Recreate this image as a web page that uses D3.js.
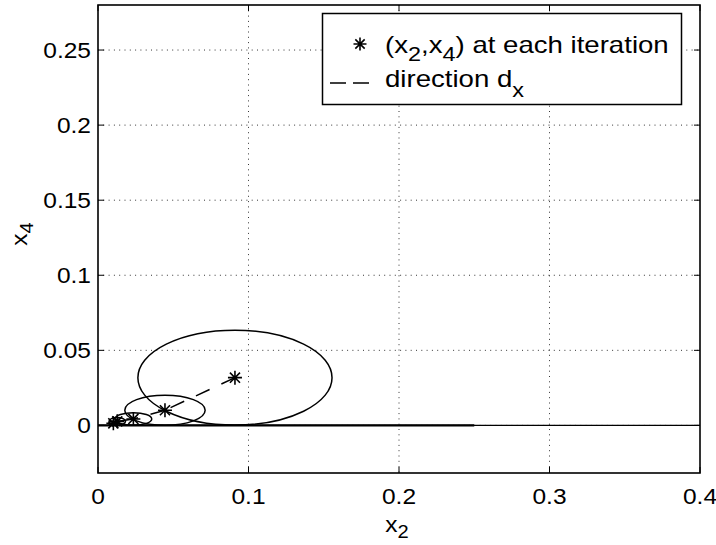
<!DOCTYPE html>
<html>
<head>
<meta charset="utf-8">
<script src="https://cdn.jsdelivr.net/npm/d3@7/dist/d3.min.js"></script>
<style>
  html, body { margin: 0; padding: 0; background: #fff; }
  svg { display: block; }
  text { font-family: "Liberation Sans", Arial, Helvetica, sans-serif; fill: #000; }
</style>
</head>
<body>
<div id="chart"></div>
<script>
// axis ticks
const xTicks = [0, 0.1, 0.2, 0.3, 0.4];
const yTicks = [0, 0.05, 0.1, 0.15, 0.2, 0.25];
const xTickLabels = ["0", "0.1", "0.2", "0.3", "0.4"];
const yTickLabels = ["0", "0.05", "0.1", "0.15", "0.2", "0.25"];

// (x2, x4) at each iteration
const iterX2 = [0.091, 0.0445, 0.0235, 0.0128, 0.0102];
const iterX4 = [0.0318, 0.0101, 0.0043, 0.0027, 0.0014];

// ellipse half widths around each iterate
const ellRadX = [0.0645, 0.0267, 0.0122, 0.0055, 0.003];
const ellRadY = [0.0316, 0.0100, 0.0042, 0.0026, 0.0013];

// the x4 = 0 line, thick part and full part
const zeroLineThick = [0, 0.25];
const zeroLineThin = [0, 0.4];

const W = 716, H = 545;
const pLeft = 98, pRight = 700, pTop = 5, pBottom = 473;

const svg = d3.select("#chart").append("svg")
    .attr("width", W)
    .attr("height", H);

const x = d3.scaleLinear().domain([0, 0.4]).range([pLeft, pRight]);
const y = d3.scaleLinear().domain([-0.0317, 0.28]).range([pBottom, pTop]);

const FS = 21.5;
const STRETCH = 1.14;   // the picture's text is a bit wider than the font

function addText(parent, px, py, fs, st) {
    return parent.append("text")
        .attr("transform", `translate(${px},${py}) scale(${st || STRETCH},1)`)
        .attr("font-size", fs || FS);
}

// grid
const grid = svg.append("g")
    .attr("stroke", "#000")
    .attr("stroke-width", 0.8)
    .attr("stroke-dasharray", "1,4.3");
grid.selectAll("line.gx")
    .data(xTicks.slice(1, -1))
    .enter().append("line")
    .attr("x1", d => x(d)).attr("x2", d => x(d))
    .attr("y1", pTop).attr("y2", pBottom);
grid.selectAll("line.gy")
    .data(yTicks)
    .enter().append("line")
    .attr("y1", d => y(d)).attr("y2", d => y(d))
    .attr("x1", pLeft).attr("x2", pRight);

// zero lines
svg.append("line")
    .attr("x1", x(zeroLineThin[0])).attr("x2", x(zeroLineThin[1]))
    .attr("y1", y(0)).attr("y2", y(0))
    .attr("stroke", "#000").attr("stroke-width", 1.3);
svg.append("line")
    .attr("x1", x(zeroLineThick[0])).attr("x2", x(zeroLineThick[1]))
    .attr("y1", y(0)).attr("y2", y(0))
    .attr("stroke", "#000").attr("stroke-width", 2.2);

// ellipses
svg.append("g")
    .selectAll("ellipse")
    .data(iterX2)
    .enter().append("ellipse")
    .attr("cx", d => x(d))
    .attr("cy", (d, i) => y(iterX4[i]))
    .attr("rx", (d, i) => x(ellRadX[i]) - x(0))
    .attr("ry", (d, i) => y(0) - y(ellRadY[i]))
    .attr("fill", "none")
    .attr("stroke", "#000")
    .attr("stroke-width", 1.5);

// direction lines, dashed, from one iterate to the next
const dirPairs = d3.pairs(d3.range(iterX2.length));
svg.append("g")
    .selectAll("line")
    .data(dirPairs)
    .enter().append("line")
    .attr("x1", d => x(iterX2[d[0]]))
    .attr("y1", d => y(iterX4[d[0]]))
    .attr("x2", d => x(iterX2[d[1]]))
    .attr("y2", d => y(iterX4[d[1]]))
    .attr("stroke", "#000")
    .attr("stroke-width", 1.5)
    .attr("stroke-dasharray", "15,13");

// star marker like matlab '*'
function star(g, cx, cy, r) {
    const d = r * 0.72;
    const p = `M${cx - r},${cy}L${cx + r},${cy}M${cx},${cy - r}L${cx},${cy + r}` +
        `M${cx - d},${cy - d}L${cx + d},${cy + d}M${cx - d},${cy + d}L${cx + d},${cy - d}`;
    g.append("path").attr("d", p)
        .attr("stroke", "#000").attr("stroke-width", 1.6).attr("fill", "none");
}
const stars = svg.append("g");
iterX2.forEach((v, i) => star(stars, x(v), y(iterX4[i]), 7));

// axes box and ticks
const axes = svg.append("g").attr("stroke", "#000").attr("stroke-width", 1.6);
axes.append("rect")
    .attr("x", pLeft).attr("y", pTop)
    .attr("width", pRight - pLeft).attr("height", pBottom - pTop)
    .attr("fill", "none");
const tl = 6;
xTicks.forEach(t => {
    axes.append("line").attr("x1", x(t)).attr("x2", x(t)).attr("y1", pBottom).attr("y2", pBottom - tl).attr("stroke-width", 1);
    axes.append("line").attr("x1", x(t)).attr("x2", x(t)).attr("y1", pTop).attr("y2", pTop + tl).attr("stroke-width", 1);
});
yTicks.forEach(t => {
    axes.append("line").attr("y1", y(t)).attr("y2", y(t)).attr("x1", pLeft).attr("x2", pLeft + tl).attr("stroke-width", 1);
    axes.append("line").attr("y1", y(t)).attr("y2", y(t)).attr("x1", pRight).attr("x2", pRight - tl).attr("stroke-width", 1);
});

// tick labels
xTicks.forEach((t, i) => {
    addText(svg, x(t), pBottom + 31).attr("text-anchor", "middle").text(xTickLabels[i]);
});
yTicks.forEach((t, i) => {
    addText(svg, pLeft - 7, y(t) + 8).attr("text-anchor", "end").text(yTickLabels[i]);
});

// axis labels with subscripts
function subLabel(g, main, sub) {
    g.append("tspan").text(main);
    g.append("tspan").attr("dy", 6).attr("font-size", FS * 0.82).text(sub);
}
const xl = addText(svg, 397, 532).attr("text-anchor", "middle");
subLabel(xl, "x", "2");
const yl = svg.append("text")
    .attr("transform", `translate(27,234) rotate(-90) scale(${STRETCH},1)`)
    .attr("font-size", FS)
    .attr("text-anchor", "middle");
subLabel(yl, "x", "4");

// legend
const LFS = 23, LST = 1.2;
const leg = svg.append("g");
leg.append("rect")
    .attr("x", 322.5).attr("y", 13.5)
    .attr("width", 359).attr("height", 91)
    .attr("fill", "#fff").attr("stroke", "#000").attr("stroke-width", 1.5);
star(leg, 360, 44, 6.5);
leg.append("line")
    .attr("x1", 330).attr("x2", 369)
    .attr("y1", 83).attr("y2", 83)
    .attr("stroke", "#000").attr("stroke-width", 1.5)
    .attr("stroke-dasharray", "16,7");
const l1 = addText(leg, 385, 53, LFS, LST);
l1.append("tspan").text("(x");
l1.append("tspan").attr("dy", 8).attr("font-size", LFS * 0.85).text("2");
l1.append("tspan").attr("dy", -8).text(",x");
l1.append("tspan").attr("dy", 8).attr("font-size", LFS * 0.85).text("4");
l1.append("tspan").attr("dy", -8).text(") at each iteration");
const l2 = addText(leg, 385, 87, LFS, LST);
l2.append("tspan").text("direction d");
l2.append("tspan").attr("dy", 10).attr("font-size", LFS * 0.85).text("x");
</script>
</body>
</html>
